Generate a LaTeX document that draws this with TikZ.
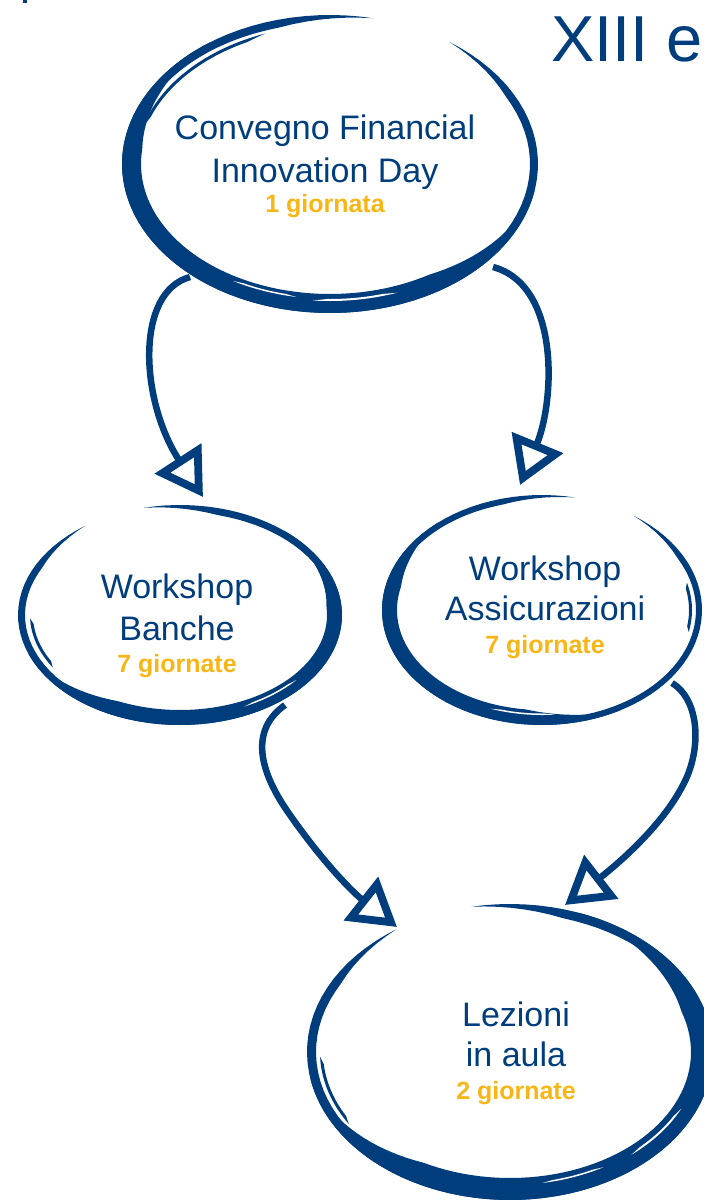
\documentclass[tikz,border=0pt]{standalone}
\usepackage{fontspec}
\setmainfont{Liberation Sans}
\usetikzlibrary{arrows.meta}
\definecolor{bblue}{RGB}{0,61,124}
\definecolor{gold}{RGB}{248,182,22}
% tapered brush band along an ellipse: colour, cx, cy, rx, ry, a1, a2, width, steepness
\newcommand\brushbandc[9]{%
  \fill[#1] plot[domain=#6:#7, samples=90, variable=\t]
    ({#2+#4*cos(\t)},{#3+#5*sin(\t)})
  -- plot[domain=#7:#6, samples=90, variable=\t]
    ({#2+(#4-#8*min(1,#9*sin((\t-(#6))/((#7)-(#6))*180)))*cos(\t)},
     {#3+(#5-#8*min(1,#9*sin((\t-(#6))/((#7)-(#6))*180)))*sin(\t)})
  -- cycle;}
\newcommand\brushband{\brushbandc{bblue}}
\newcommand\scratch{\brushbandc{white}}
\tikzset{
  bluetxt/.style={text=bblue, font=\fontsize{34}{40}\selectfont, inner sep=0pt, anchor=base},
  goldtxt/.style={text=gold, font=\fontsize{25}{30}\selectfont\bfseries, inner sep=0pt, anchor=base},
  conn/.style={draw=bblue, line width=6.5pt,
    -{Triangle[open, length=46pt, width=54pt, line width=0pt 1.2]}},
}
\begin{document}
\begin{tikzpicture}[x=1pt, y=-1pt]
\useasboundingbox (0,0) rectangle (704,1200);

% small fragment at top-left edge
\fill[bblue] (23,0) rectangle (27,3);

% ---- brush ellipses ----
% Convegno
\brushband{330}{164}{208}{149}{-55}{282}{8}{4}
\brushband{330}{164}{208}{149}{10}{235}{19}{1.6}
\brushband{333}{166}{198}{141}{195}{250}{3}{3}
\scratch{330}{164}{196}{137}{70}{95}{2}{2}
\scratch{330}{164}{194}{135}{100}{120}{1.5}{2}
% Workshop Banche
\brushband{180}{615}{162}{110}{257}{594}{7}{4}
\brushband{180}{615}{162}{110}{310}{520}{15}{1.6}
\brushband{180}{615}{150}{99}{148}{178}{3}{3}
\scratch{180}{615}{152}{101}{400}{425}{1.5}{2}
% Workshop Assicurazioni
\brushband{542}{610}{160}{115}{-55}{282}{6}{4}
\brushband{542}{610}{160}{115}{60}{230}{15}{1.6}
\brushband{542}{610}{150}{106}{-15}{12}{3}{3}
\scratch{542}{610}{151}{105}{85}{110}{1.5}{2}
% Lezioni in aula
\brushband{510}{1052}{203}{148}{259}{596}{9}{4}
\brushband{510}{1052}{203}{148}{290}{530}{22}{1.6}
\brushband{510}{1052}{190}{136}{148}{178}{3}{3}
\scratch{510}{1052}{189}{134}{385}{410}{2}{2}
\scratch{510}{1052}{187}{133}{420}{440}{1.5}{2}

% ---- texts ----
\node[bluetxt] (conv1) at (325,139) {Convegno Financial};
\node[bluetxt] (conv2) at (325,182) {Innovation Day};
\node[goldtxt] (conv3) at (325,212) {1 giornata};

\node[bluetxt] (ban1) at (177,598) {Workshop};
\node[bluetxt] (ban2) at (177,640) {Banche};
\node[goldtxt] (ban3) at (177,672) {7 giornate};

\node[bluetxt] (ass1) at (545,580) {Workshop};
\node[bluetxt] (ass2) at (545,620) {Assicurazioni};
\node[goldtxt] (ass3) at (545,653) {7 giornate};

\node[bluetxt] (lez1) at (516,1026) {Lezioni};
\node[bluetxt] (lez2) at (516,1066) {in aula};
\node[goldtxt] (lez3) at (516,1099) {2 giornate};

\node[text=bblue, font=\fontsize{65}{70}\selectfont, inner sep=0pt, anchor=base west] (title) at (551,61) {XIII e};

% ---- connector end points ----
\coordinate (convBL) at (190,277);
\coordinate (convBR) at (493,267);
\coordinate (banTip) at (203,497);
\coordinate (assTip) at (520,485);
\coordinate (banBR) at (285,705);
\coordinate (lezTipL) at (397,927);
\coordinate (assBR) at (672,683);
\coordinate (lezTipR) at (565,905);

% ---- connectors ----
\draw[conn] (convBL) .. controls (135,292) and (140,400) .. (banTip);
\draw[conn] (convBR) .. controls (560,285) and (555,400) .. (assTip);
\draw[conn] (banBR) .. controls (250,730) and (258,770) .. (290,815)
  .. controls (320,858) and (350,890) .. (lezTipL);
\draw[conn] (assBR) .. controls (700,700) and (702,750) .. (683,785)
  .. controls (660,830) and (610,870) .. (lezTipR);
\end{tikzpicture}
\end{document}
